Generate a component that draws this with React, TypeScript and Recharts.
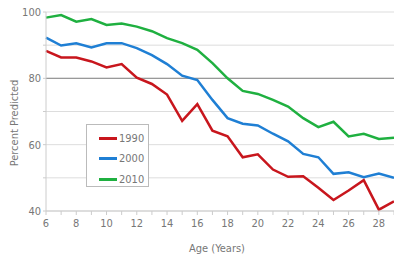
import React from 'react'
import {
  LineChart, Line, XAxis, YAxis, CartesianGrid, ReferenceLine
} from 'recharts'

const AGES = [6, 7, 8, 9, 10, 11, 12, 13, 14, 15, 16, 17, 18, 19, 20, 21, 22, 23, 24, 25, 26, 27, 28, 29]
const Y1990 = [88.3, 86.3, 86.3, 85.1, 83.3, 84.3, 80.2, 78.3, 75.1, 67.2, 72.2, 64.2, 62.5, 56.2, 57.1, 52.5, 50.3, 50.5, 47.0, 43.3, 46.2, 49.3, 40.4, 42.9]
const Y2000 = [92.3, 89.9, 90.6, 89.3, 90.6, 90.6, 89.1, 87.0, 84.3, 80.8, 79.5, 73.5, 68.0, 66.3, 65.8, 63.3, 61.0, 57.2, 56.2, 51.2, 51.7, 50.2, 51.3, 50.0]
const Y2010 = [98.3, 99.1, 97.1, 97.9, 96.1, 96.5, 95.6, 94.2, 92.1, 90.6, 88.6, 84.6, 80.0, 76.2, 75.3, 73.5, 71.5, 68.0, 65.3, 66.9, 62.5, 63.3, 61.7, 62.1]
const X_TICKS = [6, 7, 8, 9, 10, 11, 12, 13, 14, 15, 16, 17, 18, 19, 20, 21, 22, 23, 24, 25, 26, 27, 28, 29]
const Y_TICKS = [40, 50, 60, 70, 80, 90, 100]

const SERIES = [
  { key: 'y1990', name: '1990', color: '#c8161d' },
  { key: 'y2000', name: '2000', color: '#1f7fd4' },
  { key: 'y2010', name: '2010', color: '#1fb040' },
]

const data = AGES.map((age, i) => ({ age, y1990: Y1990[i], y2000: Y2000[i], y2010: Y2010[i] }))

const FONT = '"Liberation Sans Narrow", "DejaVu Sans Condensed", "Liberation Sans", sans-serif'
const TXT = '#777'

const XTick = (p: any) => {
  const v = p.payload.value
  if (v % 2 !== 0 || v > 28) return null
  return <text x={p.x} y={p.y + 10} textAnchor="middle" fontSize={11} fill={TXT} fontFamily={FONT}>{v}</text>
}

const YTick = (p: any) => {
  const v = p.payload.value
  if (v % 20 !== 0) return null
  return <text x={p.x} y={p.y + 4} textAnchor="end" fontSize={11} fill={TXT} fontFamily={FONT}>{v}</text>
}

export default function App() {
  return (
    <div style={{ position: 'absolute', left: 0, top: 0, width: 394, height: 260, background: '#fff' }}>
      <LineChart width={394} height={260} data={data} margin={{ top: 12, right: 0, bottom: 0, left: 0 }}>
        <CartesianGrid vertical={false} stroke="#ddd" strokeWidth={1} />
        <ReferenceLine y={80} stroke="#999" strokeWidth={1.2} />
        <XAxis
          dataKey="age" type="number" domain={[6, 29]} ticks={X_TICKS}
          interval={0} stroke="#ccc" tickSize={4} tick={<XTick />} height={49}
        />
        <YAxis
          type="number" domain={[40, 100]} ticks={Y_TICKS} interval={0}
          width={46} stroke="#ccc" tickSize={3} tick={<YTick />}
        />
        {SERIES.map(s => (
          <Line
            key={s.key} dataKey={s.key} name={s.name} stroke={s.color}
            strokeWidth={2.5} dot={false} isAnimationActive={false} type="linear"
          />
        ))}
      </LineChart>
      <div style={{
        position: 'absolute', left: 86, top: 124, width: 63, height: 63,
        border: '1px solid #bbb', background: '#fff', boxSizing: 'border-box',
        padding: '3px 0 0 12px', fontFamily: FONT,
      }}>
        {SERIES.map(s => (
          <div key={s.key} style={{ display: 'flex', alignItems: 'center', height: 20.5 }}>
            <div style={{ width: 18, height: 3, background: s.color, marginRight: 2 }} />
            <span style={{ fontSize: 11, color: TXT }}>{s.name}</span>
          </div>
        ))}
      </div>
      <div style={{
        position: 'absolute', left: 14, top: 123, transform: 'translate(-50%, -50%) rotate(-90deg)',
        fontFamily: FONT, fontSize: 11, color: TXT, whiteSpace: 'nowrap',
      }}>Percent Predicted</div>
      <div style={{
        position: 'absolute', left: 217, top: 248, transform: 'translate(-50%, -50%)',
        fontFamily: FONT, fontSize: 11, color: TXT, whiteSpace: 'nowrap',
      }}>Age (Years)</div>
    </div>
  )
}
